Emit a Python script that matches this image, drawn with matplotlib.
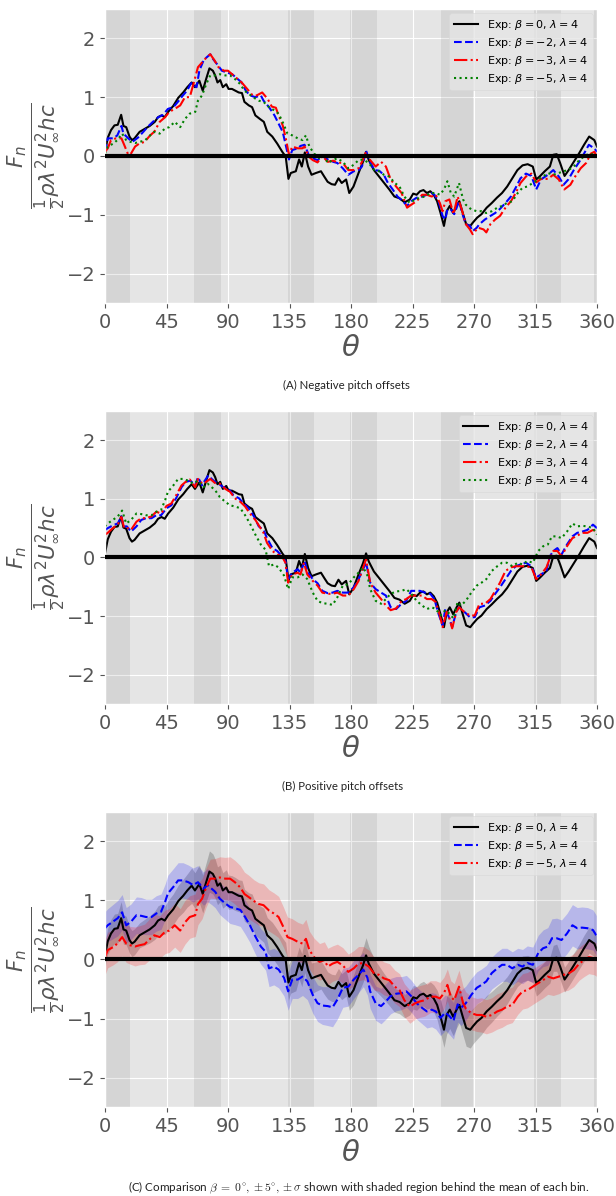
import numpy as np
import matplotlib
matplotlib.use('Agg')
import matplotlib.pyplot as plt

plt.style.use('ggplot')

# ---- data: normal force coefficient vs rotor angle theta (deg) ----
# beta = 0 (baseline, shown in all three panels)
theta_b0 = [0, 2, 4.4, 6.9, 9.3, 11.8, 13.5, 15.5, 17.9, 19.7,
            21.6, 25.3, 29, 32.7, 36.4, 38.8, 41.3, 43.7, 46.2, 49.9,
            53.6, 57.2, 60.2, 63.4, 65.8, 69, 71.5, 74, 76.4, 78.9,
            80.6, 82.3, 84.3, 86.2, 88.7, 90.4, 92.9, 95.3, 97.8, 100.2,
            102, 105.2, 107.6, 110, 113.3, 116.2, 118.7, 122.4, 126, 129.7,
            132.2, 134.2, 135.9, 139.6, 142, 144, 146.2, 148.6, 151.1, 154.3,
            158, 160.4, 162.9, 165.8, 168.3, 170.8, 173.2, 176.4, 178.7, 181.8,
            185.5, 188.75, 191, 193, 196.75, 200.5, 204.25, 208, 211.75, 215.5,
            219.25, 223, 225.5, 228, 230.5, 233, 235.5, 238, 240.5, 243,
            245.5, 248, 250, 252.25, 254.75, 257.25, 259.25, 261.75, 264.25, 267.25,
            269.25, 272.25, 275.5, 279.25, 283, 286.75, 290.5, 294.25, 298, 301.75,
            305.5, 309.25, 313, 315.5, 318, 321.75, 325.5, 328, 330.5, 333,
            336.25, 339.25, 343, 346.75, 350.5, 354.25, 358, 360]
fn_b0 = [0.07, 0.31, 0.44, 0.52, 0.53, 0.70, 0.51, 0.49, 0.33, 0.27,
         0.30, 0.41, 0.46, 0.51, 0.58, 0.66, 0.69, 0.66, 0.75, 0.85,
         0.99, 1.08, 1.17, 1.25, 1.17, 1.28, 1.11, 1.31, 1.49, 1.45,
         1.37, 1.25, 1.29, 1.17, 1.22, 1.14, 1.14, 1.11, 1.08, 1.07,
         0.92, 0.86, 0.83, 0.69, 0.63, 0.58, 0.41, 0.33, 0.21, 0.07,
         -0.01, -0.39, -0.29, -0.26, -0.06, -0.18, 0.06, -0.18, -0.32, -0.29,
         -0.26, -0.35, -0.44, -0.48, -0.49, -0.38, -0.46, -0.40, -0.63, -0.52,
         -0.29, -0.10, 0.07, -0.07, -0.24, -0.35, -0.46, -0.57, -0.69, -0.72,
         -0.79, -0.74, -0.64, -0.66, -0.60, -0.58, -0.63, -0.60, -0.66, -0.77,
         -0.97, -1.19, -0.94, -0.85, -0.97, -0.85, -0.77, -0.97, -1.16, -1.19,
         -1.13, -1.05, -0.99, -0.88, -0.80, -0.71, -0.63, -0.52, -0.38, -0.24,
         -0.16, -0.14, -0.18, -0.40, -0.35, -0.26, -0.18, 0.02, 0.03, -0.12,
         -0.34, -0.24, -0.10, 0.04, 0.19, 0.33, 0.27, 0.16]
std_b0 = [0.22, 0.22, 0.24, 0.25, 0.25, 0.28, 0.25, 0.24, 0.22, 0.22,
          0.22, 0.21, 0.22, 0.23, 0.24, 0.25, 0.25, 0.24, 0.25, 0.26,
          0.27, 0.28, 0.28, 0.30, 0.30, 0.32, 0.32, 0.33, 0.35, 0.34,
          0.33, 0.32, 0.31, 0.30, 0.30, 0.29, 0.28, 0.28, 0.27, 0.27,
          0.27, 0.27, 0.28, 0.28, 0.28, 0.29, 0.30, 0.30, 0.30, 0.30,
          0.30, 0.30, 0.28, 0.27, 0.27, 0.28, 0.28, 0.27, 0.26, 0.25,
          0.24, 0.24, 0.23, 0.23, 0.23, 0.23, 0.22, 0.22, 0.23, 0.25,
          0.27, 0.29, 0.30, 0.29, 0.26, 0.24, 0.22, 0.21, 0.20, 0.20,
          0.20, 0.20, 0.20, 0.20, 0.20, 0.21, 0.21, 0.22, 0.23, 0.25,
          0.28, 0.30, 0.32, 0.32, 0.32, 0.31, 0.30, 0.30, 0.31, 0.31,
          0.30, 0.30, 0.28, 0.27, 0.26, 0.25, 0.24, 0.23, 0.22, 0.22,
          0.22, 0.21, 0.21, 0.22, 0.22, 0.22, 0.22, 0.22, 0.23, 0.22,
          0.21, 0.21, 0.21, 0.21, 0.22, 0.22, 0.22, 0.22]

# beta = -2
theta_m2 = [0, 2, 6, 9, 12, 13.5, 17, 20, 24, 28,
            31, 35, 39, 42.5, 46, 50, 54, 57, 60, 63,
            67, 69, 72, 74, 77, 79, 82, 85.5, 89, 93,
            97, 100, 103, 106, 110, 114, 116, 120, 124, 127,
            130, 132, 134.6, 137, 141, 143, 146, 149, 152, 155.5,
            159, 163, 167, 170, 174,
            178, 182, 185.5, 188, 191, 193, 197, 200.5, 204, 207,
            210.5, 214, 218, 221, 224, 228, 232, 235.5, 239, 241,
            244, 247, 249, 250.5, 253, 255.5, 259, 262, 264, 267,
            269, 272, 274, 278, 282, 285.5, 289, 293, 297, 300.5,
            304, 308, 312, 315.5, 319, 324, 328, 332, 335.5, 339,
            343, 347, 350.5, 354, 358, 360]
fn_m2 = [0.07, 0.30, 0.30, 0.35, 0.51, 0.38, 0.30, 0.24, 0.31, 0.41,
         0.49, 0.58, 0.66, 0.70, 0.80, 0.83, 0.94, 1.03, 1.11, 1.24,
         1.17, 1.45, 1.62, 1.67, 1.73, 1.65, 1.56, 1.45, 1.42, 1.39,
         1.31, 1.25, 1.11, 1.03, 1.00, 1.03, 0.94, 0.83, 0.69, 0.55,
         0.41, 0.21, -0.06, 0.10, 0.13, 0.17, 0.19, 0.02, -0.04, -0.07,
         0.00, -0.06, -0.10, -0.12, -0.21,
         -0.32, -0.26, -0.24, -0.18, 0.09, -0.06, -0.24, -0.25, -0.32, -0.46,
         -0.57, -0.69, -0.77, -0.85, -0.77, -0.71, -0.69, -0.66, -0.63, -0.66,
         -0.77, -1.02, -1.08, -0.91, -0.91, -0.99, -0.77, -1.02, -1.16, -1.19,
         -1.28, -1.22, -1.16, -1.08, -1.02, -0.97, -0.90, -0.80, -0.69, -0.54,
         -0.38, -0.30, -0.34, -0.57, -0.40, -0.32, -0.24, -0.35, -0.49, -0.40,
         -0.24, -0.10, 0.04, 0.19, 0.13, 0.07]

# beta = -3
theta_m3 = [0, 2, 4.4, 8, 12, 14, 17, 19, 22, 25,
            29, 33, 36, 40, 44, 47, 51, 55, 58.5, 62,
            65, 68, 71, 74, 77, 80, 83, 87, 90, 93,
            97, 100, 104, 108, 111, 115, 119, 122, 125, 127,
            130, 132, 134.6, 137, 141, 144.5, 146, 149, 152, 155.5,
            159, 163, 167, 170, 174,
            178, 182, 185.5, 188, 191, 194, 198, 202, 205.5, 209,
            213, 217, 221, 224, 228, 232, 235.5, 239, 242, 245,
            247, 249, 252, 255, 258, 261, 264, 267, 269, 273,
            277, 279, 282, 285.5, 289, 293, 297, 300.5, 304, 308,
            312, 315.5, 319, 324, 328, 332, 336, 340.5, 344, 348,
            352, 355.5, 358, 360]
fn_m3 = [0.07, 0.13, 0.27, 0.30, 0.30, 0.19, 0.02, 0.04, 0.16, 0.21,
         0.24, 0.35, 0.41, 0.58, 0.66, 0.75, 0.80, 0.86, 1.00, 1.00,
         1.25, 1.51, 1.59, 1.67, 1.73, 1.63, 1.51, 1.45, 1.45, 1.39,
         1.31, 1.25, 1.14, 1.03, 1.03, 1.08, 0.97, 0.84, 0.82, 0.69,
         0.52, 0.33, 0.02, 0.16, 0.13, 0.13, 0.16, -0.01, -0.07, -0.11,
         0.00, -0.10, -0.08, -0.11, -0.12,
         -0.24, -0.24, -0.21, -0.10, 0.07, -0.07, -0.18, -0.10, -0.18, -0.40,
         -0.52, -0.63, -0.88, -0.83, -0.77, -0.66, -0.66, -0.69, -0.66, -0.80,
         -0.94, -0.77, -0.74, -0.99, -0.69, -0.91, -1.16, -1.25, -1.33, -1.22,
         -1.25, -1.30, -1.16, -1.08, -1.02, -0.88, -0.77, -0.63, -0.46, -0.35,
         -0.30, -0.45, -0.39, -0.39, -0.32, -0.40, -0.57, -0.49, -0.35, -0.21,
         -0.12, 0.04, 0.07, -0.01]

# beta = -5
theta_m5 = [0, 2, 6, 9, 12.5, 15.5, 18.5, 22, 25, 29,
            33, 36, 40, 44, 47, 51, 55, 58.5, 62, 66,
            68, 71, 74, 77, 80.5, 84, 88, 91.5, 95, 99,
            102, 105, 109, 112.5, 116, 120, 123.5, 127, 130.5, 133.5,
            137, 141, 144.5, 147, 149.5, 153, 157, 160.5, 163, 166.5,
            170, 174,
            178, 182, 185.5, 189, 193, 197, 200.5, 204, 208, 212,
            215.5, 219, 223, 227, 230.5, 234, 238, 242, 245, 248,
            250.5, 253, 255.5, 259, 262, 264, 268, 272, 275.5, 279,
            283, 287, 290.5, 294, 298, 302, 305.5, 309, 313, 317,
            320.5, 324, 328, 332, 335.5, 339, 343, 347, 350.5, 354,
            358, 360]
fn_m5 = [0.04, 0.16, 0.21, 0.27, 0.38, 0.27, 0.24, 0.22, 0.24, 0.26,
         0.35, 0.41, 0.38, 0.47, 0.49, 0.58, 0.49, 0.63, 0.72, 0.75,
         0.94, 1.03, 1.22, 1.37, 1.37, 1.39, 1.37, 1.37, 1.31, 1.22,
         1.11, 1.06, 0.99, 0.94, 0.92, 0.83, 0.78, 0.72, 0.55, 0.38,
         0.35, 0.30, 0.27, 0.35, 0.16, 0.04, -0.04, -0.01, -0.12, -0.07,
         -0.04, -0.10,
         -0.21, -0.15, -0.07, -0.06, -0.12, -0.24, -0.26, -0.32, -0.35, -0.46,
         -0.52, -0.69, -0.80, -0.74, -0.71, -0.69, -0.63, -0.63, -0.66, -0.57,
         -0.43, -0.63, -0.69, -0.46, -0.74, -0.83, -0.91, -0.94, -0.94, -0.97,
         -0.94, -0.88, -0.85, -0.80, -0.77, -0.63, -0.54, -0.52, -0.46, -0.40,
         -0.35, -0.29, -0.32, -0.29, -0.26, -0.24, -0.18, -0.07, -0.01, 0.04,
         0.02, -0.01]
std_m5 = [0.30, 0.30, 0.30, 0.31, 0.32, 0.32, 0.32, 0.33, 0.33, 0.34,
          0.35, 0.36, 0.36, 0.37, 0.37, 0.37, 0.37, 0.37, 0.36, 0.36,
          0.35, 0.34, 0.33, 0.33, 0.34, 0.35, 0.36, 0.37, 0.37, 0.37,
          0.37, 0.37, 0.36, 0.36, 0.36, 0.35, 0.35, 0.35, 0.34, 0.34,
          0.34, 0.33, 0.33, 0.33, 0.32, 0.32, 0.31, 0.31, 0.31, 0.30,
          0.30, 0.30,
          0.30, 0.30, 0.29, 0.28, 0.28, 0.28, 0.28, 0.28, 0.28, 0.28,
          0.28, 0.28, 0.28, 0.27, 0.27, 0.27, 0.27, 0.27, 0.27, 0.27,
          0.27, 0.27, 0.28, 0.28, 0.28, 0.28, 0.28, 0.28, 0.29, 0.29,
          0.29, 0.30, 0.30, 0.30, 0.30, 0.30, 0.30, 0.30, 0.30, 0.30,
          0.30, 0.30, 0.29, 0.29, 0.28, 0.28, 0.28, 0.28, 0.28, 0.28,
          0.28, 0.28]

# beta = 2
theta_p2 = [0, 2, 4.4, 7, 9.3, 12, 13.5, 16, 19, 23,
            26.5, 30, 34, 37.5, 41, 45, 48.5, 52, 56, 59,
            62.5, 66, 68, 71, 73, 75.5, 78, 80.5, 83, 86.5,
            90.5, 94, 98, 101.5, 105, 109, 112.5, 116, 118.5, 122.5,
            126, 129.5, 132, 134, 137, 141, 143, 146, 148.5, 152,
            155.5, 159, 163, 166.5, 170, 174,
            178, 182, 185.5, 191, 194, 198, 202, 205.5, 209, 213,
            217, 220.5, 224, 227, 230.5, 234, 238, 241, 244, 247,
            249, 252, 254, 257, 259, 263, 267, 270.5, 274, 278,
            282, 285.5, 289, 293, 297, 300.5, 304, 308, 312, 315.5,
            319, 323, 325.5, 328, 331, 334, 338, 342, 345.5, 349,
            353, 357, 360]
fn_p2 = [0.47, 0.50, 0.53, 0.56, 0.58, 0.70, 0.53, 0.53, 0.44, 0.53,
         0.64, 0.67, 0.67, 0.72, 0.72, 0.84, 0.89, 1.01, 1.20, 1.29,
         1.31, 1.23, 1.37, 1.23, 1.31, 1.40, 1.34, 1.29, 1.26, 1.20,
         1.17, 1.06, 1.01, 0.92, 0.84, 0.70, 0.53, 0.47, 0.33, 0.16,
         0.11, 0.02, -0.06, -0.37, -0.26, -0.20, -0.26, -0.06, -0.26, -0.37,
         -0.44, -0.57, -0.61, -0.60, -0.57, -0.60,
         -0.60, -0.51, -0.37, -0.09, -0.43, -0.54, -0.60, -0.65, -0.85, -0.88,
         -0.79, -0.74, -0.57, -0.57, -0.57, -0.60, -0.62, -0.71, -0.96, -1.16,
         -0.88, -1.04, -1.19, -0.93, -0.85, -0.93, -1.02, -1.02, -0.85, -0.82,
         -0.74, -0.62, -0.51, -0.37, -0.23, -0.15, -0.12, -0.09, -0.15, -0.34,
         -0.29, -0.23, 0.02, 0.11, 0.16, 0.05, 0.22, 0.36, 0.42, 0.44,
         0.47, 0.56, 0.50]

# beta = 3
theta_p3 = [0, 2, 5.7, 9.3, 12, 14, 16.7, 19, 23, 26.5,
            30, 34, 37.5, 41, 45, 48.5, 52, 56, 59, 62,
            66, 68, 71, 74, 77, 80.5, 84, 88, 91.5, 95,
            99, 102.5, 106, 110, 113, 116, 118.5, 122.5, 126, 129.5,
            132, 134, 137, 141, 143, 145.5, 148, 152, 155.5, 159,
            163, 166.5, 170, 174,
            178, 182, 185.5, 191, 194, 198, 202, 205.5, 209, 213,
            217, 220.5, 224, 228, 232, 235.5, 239, 242, 245, 247,
            250, 252, 254, 257, 259, 263, 267, 270.5, 274, 278,
            282, 285.5, 289, 293, 297, 300.5, 304, 308, 312, 315.5,
            319, 323, 325.5, 328, 331, 334, 338, 342, 345.5, 349,
            353, 357, 360]
fn_p3 = [0.39, 0.42, 0.50, 0.56, 0.69, 0.50, 0.50, 0.47, 0.61, 0.67,
         0.67, 0.70, 0.78, 0.75, 0.88, 0.92, 1.06, 1.23, 1.29, 1.33,
         1.20, 1.34, 1.26, 1.29, 1.34, 1.27, 1.26, 1.17, 1.12, 1.01,
         0.95, 0.87, 0.75, 0.64, 0.53, 0.42, 0.25, 0.11, 0.05, 0.02,
         -0.09, -0.43, -0.29, -0.26, -0.29, -0.09, -0.29, -0.40, -0.48, -0.60,
         -0.62, -0.62, -0.60, -0.65,
         -0.65, -0.54, -0.40, -0.03, -0.43, -0.60, -0.71, -0.82, -0.90, -0.87,
         -0.74, -0.71, -0.65, -0.65, -0.65, -0.71, -0.71, -0.76, -0.99, -1.19,
         -0.93, -1.04, -1.21, -0.93, -0.85, -0.93, -0.99, -0.99, -0.79, -0.79,
         -0.71, -0.57, -0.43, -0.23, -0.17, -0.15, -0.15, -0.15, -0.17, -0.37,
         -0.29, -0.17, -0.01, 0.11, 0.11, 0.02, 0.19, 0.33, 0.37, 0.42,
         0.42, 0.47, 0.44]

# beta = 5
theta_p5 = [0, 2, 5.7, 9.3, 12.5, 15.5, 19, 23, 26.5, 30,
            34, 37.5, 41, 44, 46, 50, 53.5, 57, 61, 64.5,
            68, 72, 75, 78, 80.5, 84, 88, 91.5, 95, 99,
            102.5, 106, 110, 114, 117.5, 120, 123.5, 127, 131, 134,
            137, 141, 144.5, 148, 152, 155.5, 159, 163, 166.5, 170,
            174,
            178, 182, 185.5, 189, 192, 194, 198, 202, 205.5, 209,
            213, 217, 220.5, 224, 228, 232, 235.5, 239, 242, 245.5,
            249, 252, 255, 258, 260.5, 264, 268, 272, 275.5, 279,
            283, 287, 290.5, 294, 298, 302, 305.5, 309, 313, 317,
            320.5, 324, 327, 330.5, 334, 338, 342, 345.5, 349, 353,
            357, 360]
fn_p5 = [0.53, 0.58, 0.64, 0.70, 0.80, 0.58, 0.64, 0.75, 0.74, 0.72,
         0.72, 0.78, 0.81, 0.98, 1.12, 1.23, 1.34, 1.34, 1.31, 1.26,
         1.31, 1.20, 1.26, 1.20, 1.15, 1.03, 0.95, 0.89, 0.87, 0.84,
         0.72, 0.58, 0.39, 0.22, 0.13, -0.15, -0.12, -0.17, -0.31, -0.54,
         -0.34, -0.34, -0.29, -0.37, -0.60, -0.74, -0.78, -0.79, -0.81, -0.68,
         -0.48,
         -0.46, -0.34, -0.26, -0.17, -0.31, -0.54, -0.74, -0.79, -0.71, -0.62,
         -0.58, -0.57, -0.54, -0.62, -0.74, -0.82, -0.88, -0.85, -0.88, -0.99,
         -0.90, -0.96, -1.04, -0.76, -0.82, -0.74, -0.60, -0.48, -0.43, -0.37,
         -0.23, -0.15, -0.09, -0.09, -0.15, -0.09, -0.12, -0.06, -0.09, 0.11,
         0.19, 0.22, 0.36, 0.36, 0.33, 0.44, 0.58, 0.53, 0.54, 0.53,
         0.50, 0.39]
std_p5 = [0.28, 0.28, 0.29, 0.30, 0.30, 0.30, 0.30, 0.31, 0.31, 0.30,
          0.30, 0.30, 0.30, 0.30, 0.31, 0.31, 0.30, 0.30, 0.29, 0.29,
          0.28, 0.28, 0.28, 0.27, 0.27, 0.27, 0.27, 0.28, 0.28, 0.28,
          0.29, 0.29, 0.30, 0.30, 0.31, 0.31, 0.31, 0.31, 0.31, 0.32,
          0.32, 0.32, 0.32, 0.31, 0.31, 0.31, 0.32, 0.33, 0.33, 0.33,
          0.33,
          0.33, 0.32, 0.30, 0.29, 0.29, 0.29, 0.29, 0.30, 0.30, 0.30,
          0.29, 0.28, 0.27, 0.27, 0.27, 0.27, 0.28, 0.29, 0.30, 0.30,
          0.30, 0.31, 0.31, 0.30, 0.30, 0.29, 0.28, 0.27, 0.27, 0.27,
          0.27, 0.28, 0.28, 0.28, 0.28, 0.28, 0.29, 0.29, 0.30, 0.30,
          0.31, 0.32, 0.33, 0.34, 0.34, 0.34, 0.35, 0.35, 0.35, 0.35,
          0.34, 0.34]

# darker angular bins behind the curves
bands = [(0, 18), (65, 85), (134, 153), (179, 199), (246, 269), (314, 334), (358, 360)]

xticks = [0, 45, 90, 135, 180, 225, 270, 315, 360]
yticks = [-2, -1, 0, 1, 2]

captions = ['(A) Negative pitch offsets',
            '(B) Positive pitch offsets',
            r'(C) Comparison $\beta\;=\;0^{\circ},\pm5^{\circ},\pm\sigma$ shown with shaded region behind the mean of each bin.']


def setup_axes(ax):
    for lo, hi in bands:
        ax.axvspan(lo, hi, color='gray', alpha=0.15, lw=0, zorder=0.8)
    ax.axhline(0, color='k', lw=3, zorder=10)
    ax.set_xlim(0, 360)
    ax.set_ylim(-2.5, 2.5)
    ax.set_xticks(xticks)
    ax.set_yticks(yticks)
    ax.tick_params(labelsize=14, colors='#555555')
    ax.set_xlabel(r'$\theta$', fontsize=21, color='#555555', labelpad=2)
    ax.set_ylabel(r'$\frac{F_n}{\frac{1}{2}\rho\lambda^2U_\infty^2hc}$',
                  fontsize=22, color='#555555', labelpad=0)


def add_legend(ax):
    leg = ax.legend(loc='upper right', fontsize=8, framealpha=0.8,
                    facecolor='#E5E5E5', edgecolor='#D8D8D8',
                    borderaxespad=0.4, handlelength=2.2, labelspacing=0.35)
    leg.set_zorder(20)


fig = plt.figure(figsize=(6.16, 11.96), dpi=100)
axA = fig.add_axes([0.1705, 0.7467, 0.7987, 0.2458])
axB = fig.add_axes([0.1705, 0.4114, 0.7987, 0.2450])
axC = fig.add_axes([0.1705, 0.0744, 0.7987, 0.2467])

# --- (A) negative pitch offsets ---
setup_axes(axA)
axA.plot(theta_b0, fn_b0, color='k', ls='-', lw=1.5, label=r'Exp: $\beta = 0$, $\lambda = 4$')
axA.plot(theta_m2, fn_m2, color='b', ls='--', lw=1.5, label=r'Exp: $\beta = -2$, $\lambda = 4$')
axA.plot(theta_m3, fn_m3, color='r', ls='-.', lw=1.5, label=r'Exp: $\beta = -3$, $\lambda = 4$')
axA.plot(theta_m5, fn_m5, color='g', ls=':', lw=1.5, label=r'Exp: $\beta = -5$, $\lambda = 4$')
add_legend(axA)

# --- (B) positive pitch offsets ---
setup_axes(axB)
axB.plot(theta_b0, fn_b0, color='k', ls='-', lw=1.5, label=r'Exp: $\beta = 0$, $\lambda = 4$')
axB.plot(theta_p2, fn_p2, color='b', ls='--', lw=1.5, label=r'Exp: $\beta = 2$, $\lambda = 4$')
axB.plot(theta_p3, fn_p3, color='r', ls='-.', lw=1.5, label=r'Exp: $\beta = 3$, $\lambda = 4$')
axB.plot(theta_p5, fn_p5, color='g', ls=':', lw=1.5, label=r'Exp: $\beta = 5$, $\lambda = 4$')
add_legend(axB)

# --- (C) comparison with +/- sigma ---
setup_axes(axC)
b0 = np.array(fn_b0)
p5 = np.array(fn_p5)
m5 = np.array(fn_m5)
axC.fill_between(theta_b0, b0 - np.array(std_b0), b0 + np.array(std_b0),
                 color='k', alpha=0.2, lw=0, zorder=2)
axC.fill_between(theta_p5, p5 - np.array(std_p5), p5 + np.array(std_p5),
                 color='b', alpha=0.2, lw=0, zorder=2)
axC.fill_between(theta_m5, m5 - np.array(std_m5), m5 + np.array(std_m5),
                 color='r', alpha=0.2, lw=0, zorder=2)
axC.plot(theta_b0, fn_b0, color='k', ls='-', lw=1.5, label=r'Exp: $\beta = 0$, $\lambda = 4$')
axC.plot(theta_p5, fn_p5, color='b', ls='--', lw=1.5, label=r'Exp: $\beta = 5$, $\lambda = 4$')
axC.plot(theta_m5, fn_m5, color='r', ls='-.', lw=1.5, label=r'Exp: $\beta = -5$, $\lambda = 4$')
add_legend(axC)

# captions
fig.text(346 / 616, 1 - 385 / 1196, captions[0], ha='center', va='center',
         fontsize=8.2, family='Lato', color='#222222')
fig.text(343 / 616, 1 - 786 / 1196, captions[1], ha='center', va='center',
         fontsize=8.2, family='Lato', color='#222222')
fig.text(359 / 616, 1 - 1188 / 1196, captions[2], ha='center', va='center',
         fontsize=8.4, family='Lato', color='#222222', math_fontfamily='cm')

fig.savefig('out.png', dpi=100, facecolor='white')
